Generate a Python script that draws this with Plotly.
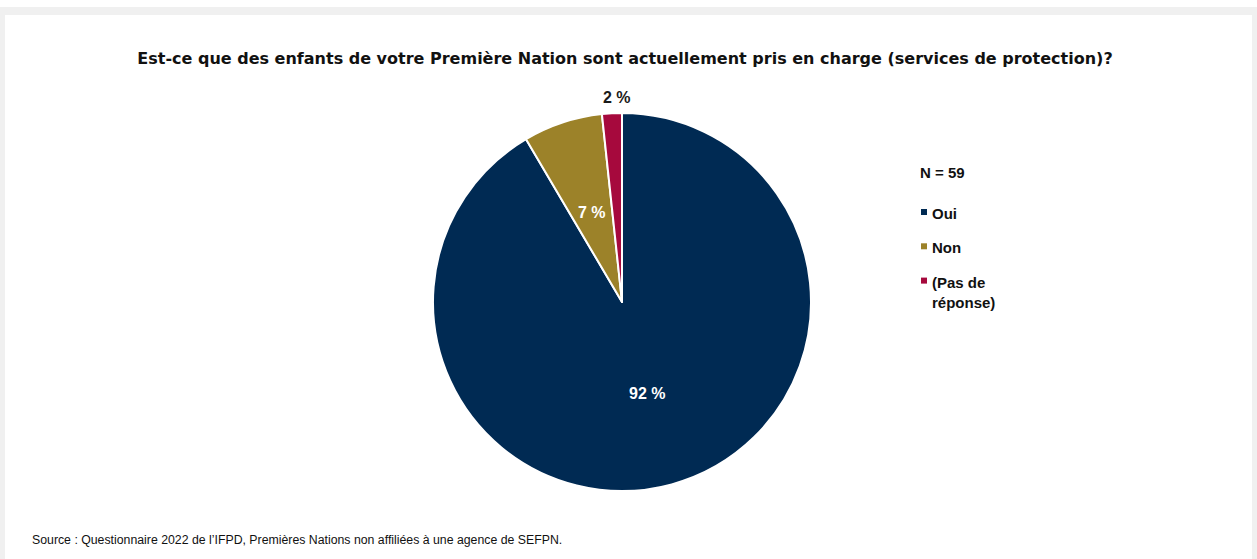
import math
import plotly.graph_objects as go

# Survey responses (counts, N = 59)
categories = ["Oui", "Non", "(Pas de réponse)"]
legend_labels = ["Oui", "Non", "(Pas de<br>réponse)"]
counts = [54, 4, 1]
colors = ["#002a53", "#9c8229", "#a6093d"]

total = sum(counts)
shares = [c / total for c in counts]
pct_text = [f"{round(s * 100)} %" for s in shares]

title_text = ("Est-ce que des enfants de votre Première Nation sont actuellement "
              "pris en charge (services de protection)?")
source_text = "Source : Questionnaire 2022 de l’IFPD, Premières Nations non affiliées à une agence de SEFPN."

W, H = 1257, 559
cx, cy, r = 622, 302, 189          # pie centre and radius in pixels
LABEL_FONT = "Liberation Sans, Arial"


def px(x):
    return x / W


def py(y):
    return 1 - y / H


fig = go.Figure()

fig.add_trace(go.Pie(
    labels=categories,
    values=counts,
    textinfo="none",
    marker=dict(colors=colors, line=dict(color="white", width=2)),
    sort=False,
    direction="clockwise",
    rotation=0,
    showlegend=False,
    hoverinfo="label+percent",
    domain=dict(x=[px(cx - r), px(cx + r)], y=[py(cy + r), py(cy - r)]),
))

annotations = []

# Percentage labels: centred at half radius on each slice's mid-angle,
# thin slices get their label just outside the rim.
start = 0.0
for s, txt in zip(shares, pct_text):
    mid = (start + s / 2) * 2 * math.pi
    start += s
    inside = s >= 0.05
    dist = 0.5 * r if inside else r + 16
    x = cx + dist * math.sin(mid) + (0 if inside else 6)
    y = cy - dist * math.cos(mid)
    annotations.append(dict(
        text=f"<b>{txt}</b>", xref="paper", yref="paper",
        x=px(x), y=py(y), xanchor="center", yanchor="middle",
        showarrow=False,
        font=dict(family=LABEL_FONT, size=16,
                  color="white" if inside else "#1a1a1a"),
    ))

# Legend: title, small square swatches and labels
leg_x, leg_y0, leg_step = 918, 212, 34.3
annotations.append(dict(
    text="<b>N = 59</b>", xref="paper", yref="paper",
    x=px(leg_x), y=py(172), xanchor="left", yanchor="middle",
    showarrow=False, font=dict(family=LABEL_FONT, size=15, color="#111111"),
))
shapes = [
    # light top strip and white content panel
    dict(type="rect", xref="paper", yref="paper", x0=0, x1=1,
         y0=py(7), y1=1, fillcolor="white", line=dict(width=0), layer="below"),
    dict(type="rect", xref="paper", yref="paper", x0=px(5), x1=px(1252),
         y0=0, y1=py(15), fillcolor="white", line=dict(width=0), layer="below"),
]
for i, (lab, col) in enumerate(zip(legend_labels, colors)):
    yc = leg_y0 + i * leg_step
    shapes.append(dict(type="rect", xref="paper", yref="paper",
                       x0=px(leg_x + 3), x1=px(leg_x + 9),
                       y0=py(yc + 3), y1=py(yc - 3),
                       fillcolor=col, line=dict(width=0)))
    annotations.append(dict(
        text=f"<b>{lab}</b>", xref="paper", yref="paper",
        x=px(leg_x + 12), y=py(yc - 9), xanchor="left", yanchor="top",
        align="left", showarrow=False,
        font=dict(family=LABEL_FONT, size=15, color="#111111"),
    ))

annotations.append(dict(
    text=source_text, xref="paper", yref="paper",
    x=px(30), xanchor="left", y=py(540), yanchor="middle",
    showarrow=False,
    font=dict(family=LABEL_FONT, size=12.3, color="#111111"),
))

fig.update_layout(
    width=W, height=H,
    margin=dict(l=0, r=0, t=0, b=0),
    paper_bgcolor="#f0f0f0",
    title=dict(
        text=f"<b>{title_text}</b>",
        x=px(625), xanchor="center",
        y=py(58), yanchor="middle",
        font=dict(family="DejaVu Sans", size=16, color="#111111"),
    ),
    shapes=shapes,
    annotations=annotations,
)

fig.write_html("out.html")
